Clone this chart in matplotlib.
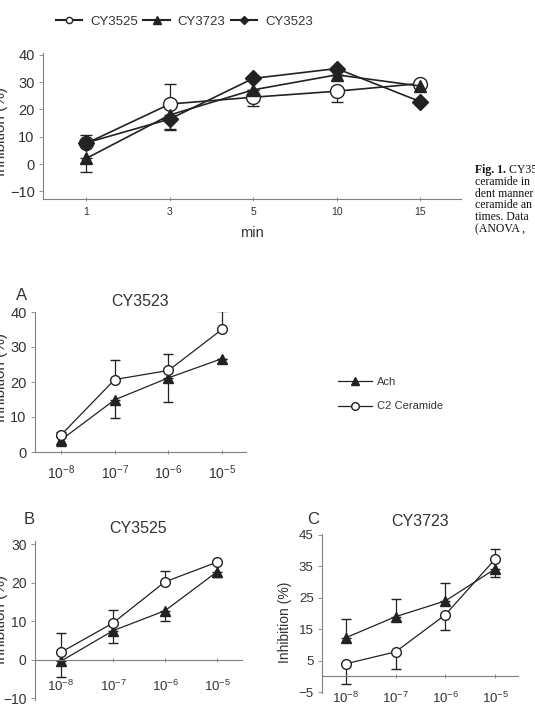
import numpy as np
import matplotlib
matplotlib.use("Agg")
import matplotlib.pyplot as plt
from matplotlib.lines import Line2D
from matplotlib.text import Annotation

plt.rcParams['font.family'] = ['Liberation Sans', 'DejaVu Sans']
plt.rcParams['mathtext.fontset'] = 'custom'
plt.rcParams['mathtext.rm'] = 'Liberation Sans'
plt.rcParams['mathtext.it'] = 'Liberation Sans:italic'
plt.rcParams['mathtext.bf'] = 'Liberation Sans:bold'

# ---- data: time course (top panel) ----
time_labels = ['1', '3', '5', '10', '15']
cy3525_t = [7.6, 22.0, 24.5, 26.7, 29.5]
cy3525_t_lo = [0, 0, 3.1, 3.8, 0]
cy3525_t_hi = [3.0, 7.3, 0, 0, 0]
cy3723_t = [2.1, 18.0, 27.2, 32.7, 28.6]
cy3723_t_lo = [4.9, 5.3, 0, 0, 0]
cy3723_t_hi = [0, 0, 0, 0, 0]
cy3523_t = [7.8, 16.5, 31.4, 35.0, 22.9]
cy3523_t_lo = [0, 4.0, 0, 0, 0]
cy3523_t_hi = [0, 0, 0, 0, 0]

# ---- data: dose response (panels A, B, C) ----
dose_labels = [r'$10^{-8}$', r'$10^{-7}$', r'$10^{-6}$', r'$10^{-5}$']

a_ach = [3.4, 14.9, 21.2, 26.7]
a_ach_lo = [1.6, 5.3, 7.0, 0]
a_ach_hi = [0.8, 0, 0, 0]
a_c2 = [4.8, 20.7, 23.3, 35.1]
a_c2_lo = [0, 0, 0, 0]
a_c2_hi = [0.8, 5.7, 4.8, 5.1]

b_ach = [-0.3, 7.6, 12.8, 22.9]
b_ach_lo = [4.0, 3.2, 2.6, 1.4]
b_ach_hi = [0, 0, 0, 0]
b_c2 = [2.0, 9.6, 20.3, 25.4]
b_c2_lo = [0, 0, 0, 0]
b_c2_hi = [5.0, 3.4, 2.8, 0.4]

c_ach = [12.3, 19.0, 24.0, 34.2]
c_ach_lo = [0, 0, 0, 2.7]
c_ach_hi = [5.9, 5.5, 5.6, 0]
c_c2 = [4.0, 7.8, 19.6, 37.3]
c_c2_lo = [6.3, 5.4, 4.7, 0]
c_c2_hi = [0, 0, 0, 3.2]

caption_lines = ['ceramide in', 'dent manner', 'ceramide an', 'times. Data', '(ANOVA ,']

W, H = 535, 714
LINE = '#222222'
SPINE = '#808080'
TXT = '#333333'

fig = plt.figure(figsize=(W / 100, H / 100), dpi=100)


def px_axes(l, t, r, b):
    return fig.add_axes([l / W, 1 - b / H, (r - l) / W, (b - t) / H])


def style(ax, xpad, xsize, ysize):
    for s in ['top', 'right']:
        ax.spines[s].set_visible(False)
    for s in ['left', 'bottom']:
        ax.spines[s].set_color(SPINE)
        ax.spines[s].set_linewidth(0.8)
    ax.tick_params(axis='x', direction='inout', length=3, width=0.6, colors=SPINE,
                   labelcolor=TXT, labelsize=xsize, pad=xpad)
    ax.tick_params(axis='y', direction='out', length=3, width=0.6, colors=SPINE,
                   labelcolor=TXT, labelsize=ysize, pad=3)


def series(ax, y, lo, hi, marker, face, ms, lw, cap):
    x = np.arange(len(y))
    ax.errorbar(x, y, yerr=[lo, hi], color=LINE, lw=lw, marker=marker, ms=ms,
                mfc=face, mec=LINE, mew=1.0, ecolor=LINE, elinewidth=0.9,
                capsize=cap, capthick=0.9)


def key(marker, face, ms, lw):
    return Line2D([], [], color=LINE, lw=lw, marker=marker, ms=ms, mfc=face,
                  mec=LINE, mew=1.0)


# ---------------- top time-course panel ----------------
ax0 = px_axes(43, 53, 461, 199)
series(ax0, cy3525_t, cy3525_t_lo, cy3525_t_hi, 'o', 'white', 10, 1.2, 4)
series(ax0, cy3723_t, cy3723_t_lo, cy3723_t_hi, '^', LINE, 9, 1.2, 4)
series(ax0, cy3523_t, cy3523_t_lo, cy3523_t_hi, 'D', LINE, 8, 1.2, 4)
ax0.set_xlim(-0.52, 4.49)
ax0.set_ylim(-12.8, 40.7)
ax0.set_yticks([-10, 0, 10, 20, 30, 40])
ax0.set_yticklabels(['\u221210', '0', '10', '20', '30', '40'])
ax0.set_xticks(range(len(time_labels)))
ax0.set_xticklabels(time_labels)
style(ax0, 4, 7.5, 10.5)
fig.text(0.5 * (43 + 461) / W, 1 - 233 / H, 'min', ha='center', va='center',
         fontsize=10.5, color=TXT)
fig.text(1 / W, 1 - 131 / H, 'Inhibition (%)', rotation=90, ha='center',
         va='center', fontsize=11, color=TXT)
leg = fig.legend([key('o', 'white', 4.5, 1.5), key('^', LINE, 5.5, 1.5), key('D', LINE, 4.5, 1.5)],
                 ['CY3525', 'CY3723', 'CY3523'], loc='center left',
                 bbox_to_anchor=(56 / W, 1 - 22 / H), ncol=3, frameon=False,
                 fontsize=9.5, handlelength=2.0, handletextpad=0.6, columnspacing=0.4,
                 borderpad=0, borderaxespad=0)
for t in leg.get_texts():
    t.set_color(TXT)

# caption fragment on the right (cut by the page edge)
cap_x = 475 / W
t1 = fig.text(cap_x, 1 - 170 / H, 'Fig. 1.', family='Liberation Serif', weight='bold',
              fontsize=8.5, va='center', color='#111111')
fig.add_artist(Annotation(' CY35', xy=(1, 0.5), xycoords=t1, va='center',
                          family='Liberation Serif', fontsize=8.5, color='#111111'))
for i, s in enumerate(caption_lines):
    fig.text(cap_x, 1 - (182 + 11.7 * i) / H, s, family='Liberation Serif',
             fontsize=8.5, va='center', color='#111111')

# ---------------- panel A ----------------
axA = px_axes(35, 312, 246, 452)
series(axA, a_ach, a_ach_lo, a_ach_hi, '^', LINE, 7, 0.9, 3.5)
series(axA, a_c2, a_c2_lo, a_c2_hi, 'o', 'white', 7, 0.9, 3.5)
axA.set_xlim(-0.48, 3.44)
axA.set_ylim(0, 40)
axA.set_yticks([0, 10, 20, 30, 40])
axA.set_xticks(range(len(dose_labels)))
axA.set_xticklabels(dose_labels)
style(axA, 7, 10, 10.5)
axA.set_title('CY3523', fontsize=11.5, color=TXT, pad=4)
fig.text(22 / W, 1 - 295 / H, 'A', fontsize=12, ha='center', va='center', color=TXT)
fig.text(1 / W, 1 - 378 / H, 'Inhibition (%)', rotation=90, ha='center',
         va='center', fontsize=11, color=TXT)
legA = fig.legend([key('^', LINE, 6, 0.9), key('o', 'white', 5.5, 0.9)],
                  ['Ach', 'C2 Ceramide'], loc='upper left',
                  bbox_to_anchor=(338 / W, 1 - 377 / H), frameon=False, fontsize=8,
                  handlelength=3.1, handletextpad=0.4, labelspacing=1.3,
                  borderpad=0, borderaxespad=0, numpoints=1)
for t in legA.get_texts():
    t.set_color(TXT)

# ---------------- panel B ----------------
axB = px_axes(35, 541, 242, 700)
series(axB, b_ach, b_ach_lo, b_ach_hi, '^', LINE, 7, 0.9, 3.5)
series(axB, b_c2, b_c2_lo, b_c2_hi, 'o', 'white', 7, 0.9, 3.5)
axB.set_xlim(-0.5, 3.48)
axB.set_ylim(-10.4, 30.9)
axB.set_yticks([-10, 0, 10, 20, 30])
axB.set_yticklabels(['\u221210', '0', '10', '20', '30'])
axB.spines['bottom'].set_position(('data', 0))
axB.set_xticks(range(len(dose_labels)))
axB.set_xticklabels(dose_labels)
style(axB, 12, 9.5, 10)
axB.set_title('CY3525', fontsize=11.5, color=TXT, pad=6)
fig.text(29 / W, 1 - 519 / H, 'B', fontsize=12, ha='center', va='center', color=TXT)
fig.text(1 / W, 1 - 620 / H, 'Inhibition (%)', rotation=90, ha='center',
         va='center', fontsize=11, color=TXT)

# ---------------- panel C ----------------
axC = px_axes(322, 534, 518, 693)
series(axC, c_ach, c_ach_lo, c_ach_hi, '^', LINE, 7, 0.9, 3.5)
series(axC, c_c2, c_c2_lo, c_c2_hi, 'o', 'white', 7, 0.9, 3.5)
axC.set_xlim(-0.48, 3.46)
axC.set_ylim(-5.3, 45.3)
axC.set_yticks([-5, 5, 15, 25, 35, 45])
axC.set_yticklabels(['\u22125', '5', '15', '25', '35', '45'])
axC.spines['bottom'].set_position(('data', 0))
axC.set_xticks(range(len(dose_labels)))
axC.set_xticklabels(dose_labels)
style(axC, 9, 9.5, 9.5)
axC.set_title('CY3723', fontsize=11.5, color=TXT, pad=6)
fig.text(313 / W, 1 - 520 / H, 'C', fontsize=12, ha='center', va='center', color=TXT)
fig.text(285 / W, 1 - 622 / H, 'Inhibition (%)', rotation=90, ha='center',
         va='center', fontsize=10, color=TXT)

fig.savefig('out.png', dpi=100)
